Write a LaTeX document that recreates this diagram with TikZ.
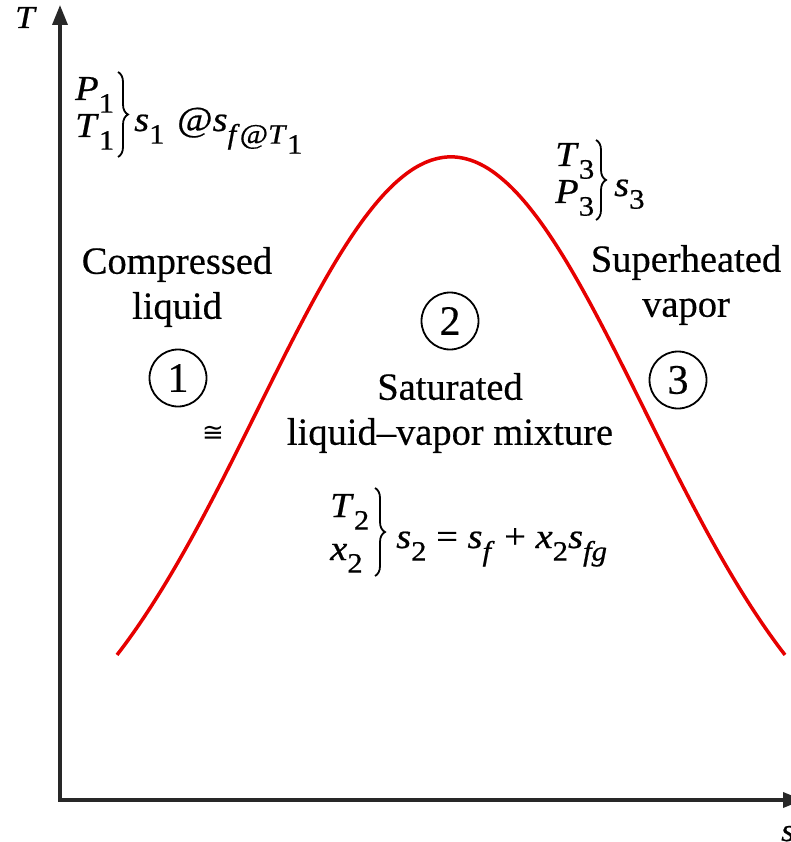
\documentclass[tikz,border=0pt]{standalone}
\usepackage{fontspec}
\setmainfont[FakeBold=0.4]{Liberation Serif}
\newfontfamily\frmfont[FakeStretch=1.1, FakeBold=0.6]{Liberation Serif}
\newfontfamily\symfont{DejaVu Sans}
\usetikzlibrary{arrows.meta,decorations.pathreplacing}
\newcommand{\sbx}[1]{\raisebox{-0.36em}{\fontsize{28}{28}\selectfont #1}}
\newcommand{\ivar}[1]{\textit{#1}}
\tikzset{
  lbl/.style={font=\fontsize{38.5}{45}\selectfont, align=center, inner sep=0pt},
  frm/.style={font=\frmfont\fontsize{35}{35}\selectfont, inner sep=0pt, anchor=base west},
  axlab/.style={font=\frmfont\fontsize{32}{32}\selectfont, inner sep=0pt},
  num/.style={circle, draw, line width=1.8pt, minimum size=57pt, inner sep=0pt, font=\fontsize{42}{42}\selectfont},
  axis/.style={line width=3.5pt, draw={rgb,255:red,40;green,40;blue,40},
     {Triangle[length=20pt,width=15pt]}-{Triangle[length=20pt,width=15pt]}},
  dome/.style={line width=3.5pt, draw={rgb,255:red,230;green,0;blue,0}},
  bigbrace/.style={decorate, decoration={brace, amplitude=10pt}, line width=1.8pt},
}
\begin{document}
\begin{tikzpicture}[x=1pt,y=-1pt]
\useasboundingbox (0,0) rectangle (791,842);
\fill[white] (0,0) rectangle (791,842);
% axes
\coordinate (ytip) at (60,5);
\coordinate (origin) at (60,800);
\coordinate (xtip) at (803,800);
\draw[axis] (ytip) -- (origin) -- (xtip);
\node[axlab, anchor=base] (tlab) at (26,28) {\ivar{T}};
\node[axlab, anchor=base west] (slab) at (781,841) {\ivar{s}};
% saturation dome
\draw[dome] plot[domain=117:785, samples=120, smooth]
  ({\x}, {800 - 643*exp(-(((\x-451)/100)^2)/7.492)});
% region labels
\node[lbl] (comp) at (177,287) {Compressed\\liquid};
\node[lbl] (sup) at (686,285) {Superheated\\vapor};
\node[lbl] (sat) at (450,413) {Saturated\\liquid--vapor mixture};
\node[num] (c1) at (178,378) {1};
\node[num] (c2) at (450,321) {2};
\node[num] (c3) at (678,380) {3};
\node[font=\symfont\fontsize{26}{26}\selectfont, fill=white, inner sep=1pt] (approx) at (213,434) {≅};
% state 1
\node[frm] (p1) at (75,100) {\ivar{P}\sbx{1}};
\node[frm] (t1) at (75,137) {\ivar{T}\sbx{1}};
\coordinate (b1t) at (118,72);
\coordinate (b1b) at (118,157);
\draw[bigbrace] (b1t) -- (b1b);
\node[frm] (s1) at (134,131) {\ivar{s}\sbx{1}};
\node[frm] (sf1) at (177,131) {@\ivar{s}\sbx{\ivar{f}@\ivar{T}\sbx{1}}};
% state 3
\node[frm] (t3) at (555,166) {\ivar{T}\sbx{3}};
\node[frm] (p3) at (555,203) {\ivar{P}\sbx{3}};
\coordinate (b3t) at (596,140);
\coordinate (b3b) at (596,220);
\draw[bigbrace] (b3t) -- (b3b);
\node[frm] (s3) at (614,196) {\ivar{s}\sbx{3}};
% state 2
\node[frm] (t2) at (330,517) {\ivar{T}\sbx{2}};
\node[frm] (x2) at (330,560) {\ivar{x}\sbx{2}};
\coordinate (b2t) at (375,488);
\coordinate (b2b) at (375,576);
\draw[bigbrace] (b2t) -- (b2b);
\node[frm] (s2) at (396,548) {\ivar{s}\sbx{2} = \ivar{s}\sbx{\ivar{f}} + \ivar{x}\sbx{2}\ivar{s}\sbx{\ivar{fg}}};
\end{tikzpicture}
\end{document}
